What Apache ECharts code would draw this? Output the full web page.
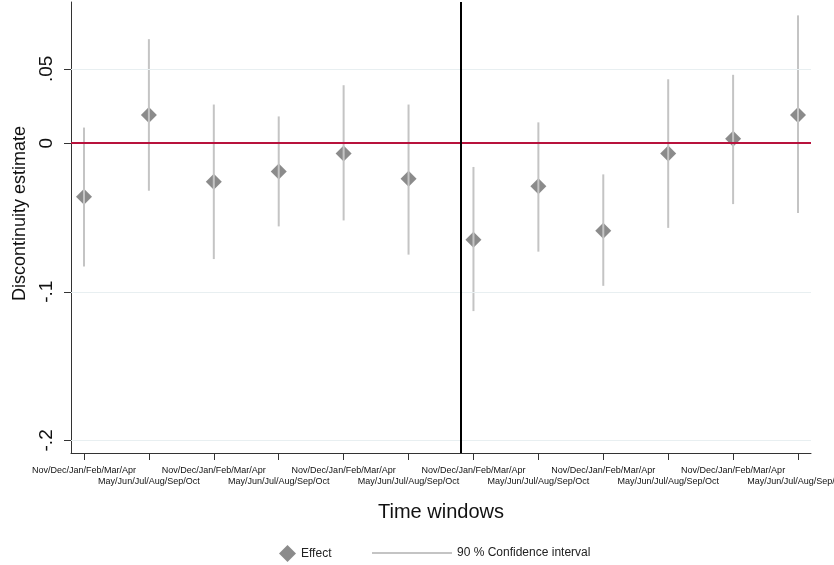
<!DOCTYPE html>
<html>
<head>
<meta charset="utf-8">
<script src="https://cdn.jsdelivr.net/npm/echarts@6/dist/echarts.min.js"></script>
<style>
  html, body { margin: 0; padding: 0; background: #fff; }
  #chart { width: 834px; height: 565px; }
</style>
</head>
<body>
<div id="chart"></div>
<script>
// time windows alternate between the two half-years
var windows = [
  'Nov/Dec/Jan/Feb/Mar/Apr', 'May/Jun/Jul/Aug/Sep/Oct',
  'Nov/Dec/Jan/Feb/Mar/Apr', 'May/Jun/Jul/Aug/Sep/Oct',
  'Nov/Dec/Jan/Feb/Mar/Apr', 'May/Jun/Jul/Aug/Sep/Oct',
  'Nov/Dec/Jan/Feb/Mar/Apr', 'May/Jun/Jul/Aug/Sep/Oct',
  'Nov/Dec/Jan/Feb/Mar/Apr', 'May/Jun/Jul/Aug/Sep/Oct',
  'Nov/Dec/Jan/Feb/Mar/Apr', 'May/Jun/Jul/Aug/Sep/Oct'
];
var xPos = [1, 2, 3, 4, 5, 6, 7, 8, 9, 10, 11, 12];
var effect = [-0.036, 0.019, -0.026, -0.019, -0.007, -0.024, -0.065, -0.029, -0.059, -0.007, 0.003, 0.019];
var ciLow  = [-0.083, -0.032, -0.078, -0.056, -0.052, -0.075, -0.113, -0.073, -0.096, -0.057, -0.041, -0.047];
var ciHigh = [0.0105, 0.070, 0.026, 0.018, 0.039, 0.026, -0.016, 0.014, -0.021, 0.043, 0.046, 0.086];
var yTicks = [-0.2, -0.1, 0, 0.05];
var yTickLabels = ['-.2', '-.1', '0', '.05'];
var cutoff = 6.8;

var font = '"Liberation Sans", Arial, sans-serif';

// labels are staggered on two rows, odd positions on top
var topRow = xPos.filter(function (x, i) { return i % 2 === 0; });
var lowRow = xPos.filter(function (x, i) { return i % 2 === 1; });

function windowLabel(v) {
  var i = xPos.indexOf(v);
  return i < 0 ? '' : windows[i];
}

var chart = echarts.init(document.getElementById('chart'));

var gridLines = yTicks.filter(function (v) { return v !== 0; }).map(function (v) {
  return { yAxis: v, lineStyle: { color: '#e8eff1', width: 1, type: 'solid' } };
});

var xLabelStyle = { fontFamily: font, fontSize: 9, color: '#111', formatter: windowLabel };

var option = {
  animation: false,
  textStyle: { fontFamily: font },
  grid: { left: 71, right: 23, top: 2, bottom: 112, outerBoundsMode: 'none', containLabel: false },
  legend: [
    {
      data: [{ name: 'Effect', icon: 'diamond' }],
      left: 274, top: 540,
      itemWidth: 17, itemHeight: 17, itemGap: 11,
      textStyle: { fontFamily: font, fontSize: 12, color: '#222' },
      selectedMode: false
    },
    {
      data: [{ name: '90 % Confidence interval', icon: 'rect' }],
      left: 367, top: 542,
      itemWidth: 80, itemHeight: 2, itemGap: 10,
      textStyle: { fontFamily: font, fontSize: 12, color: '#222' },
      selectedMode: false
    }
  ],
  xAxis: [
    {
      type: 'value',
      position: 'bottom',
      min: 0.8, max: 12.2,
      name: 'Time windows',
      nameLocation: 'middle',
      nameGap: 49,
      nameTextStyle: { fontFamily: font, fontSize: 20, color: '#111' },
      axisLine: { show: true, onZero: false, lineStyle: { color: '#333', width: 1 } },
      axisTick: { show: true, customValues: xPos, length: 7, lineStyle: { color: '#333' } },
      axisLabel: Object.assign({ customValues: topRow, margin: 13 }, xLabelStyle),
      splitLine: { show: false }
    },
    {
      type: 'value',
      position: 'bottom',
      min: 0.8, max: 12.2,
      axisLine: { show: false, onZero: false },
      axisTick: { show: false },
      axisLabel: Object.assign({ customValues: lowRow, margin: 24 }, xLabelStyle),
      splitLine: { show: false }
    }
  ],
  yAxis: {
    type: 'value',
    min: -0.2085, max: 0.095,
    name: 'Discontinuity estimate',
    nameLocation: 'middle',
    nameGap: 41,
    nameTextStyle: { fontFamily: font, fontSize: 18, color: '#111', padding: [0, 0, 0, 28] },
    axisLine: { show: true, onZero: false, lineStyle: { color: '#333', width: 1 } },
    axisTick: { show: true, customValues: yTicks, length: 7, lineStyle: { color: '#333' } },
    axisLabel: {
      customValues: yTicks,
      rotate: 90,
      margin: 15,
      fontFamily: font,
      fontSize: 19,
      color: '#111',
      formatter: function (v) {
        for (var i = 0; i < yTicks.length; i++) {
          if (Math.abs(yTicks[i] - v) < 1e-9) return yTickLabels[i];
        }
        return '';
      }
    },
    splitLine: { show: false }
  },
  series: [
    {
      name: 'refs',
      type: 'line',
      data: [],
      z: 1,
      silent: true,
      markLine: {
        silent: true,
        symbol: 'none',
        label: { show: false },
        animation: false,
        data: gridLines.concat([
          { yAxis: 0, lineStyle: { color: '#b8123c', width: 2, type: 'solid' } },
          { xAxis: cutoff, lineStyle: { color: '#000', width: 2, type: 'solid' } }
        ])
      }
    },
    {
      name: 'Effect',
      type: 'scatter',
      symbol: 'diamond',
      symbolSize: 16,
      z: 3,
      itemStyle: { color: '#6e6e6e' },
      data: xPos.map(function (x, i) { return [x, effect[i]]; })
    },
    {
      name: '90 % Confidence interval',
      type: 'custom',
      z: 4,
      itemStyle: { color: '#c4c4c4' },
      encode: { x: 0, y: [1, 2] },
      data: xPos.map(function (x, i) { return [x, ciLow[i], ciHigh[i]]; }),
      renderItem: function (params, api) {
        var p1 = api.coord([api.value(0), api.value(1)]);
        var p2 = api.coord([api.value(0), api.value(2)]);
        return {
          type: 'line',
          shape: { x1: p1[0], y1: p1[1], x2: p2[0], y2: p2[1] },
          style: { stroke: '#c4c4c4', lineWidth: 2 }
        };
      }
    }
  ]
};

chart.setOption(option);
</script>
</body>
</html>
